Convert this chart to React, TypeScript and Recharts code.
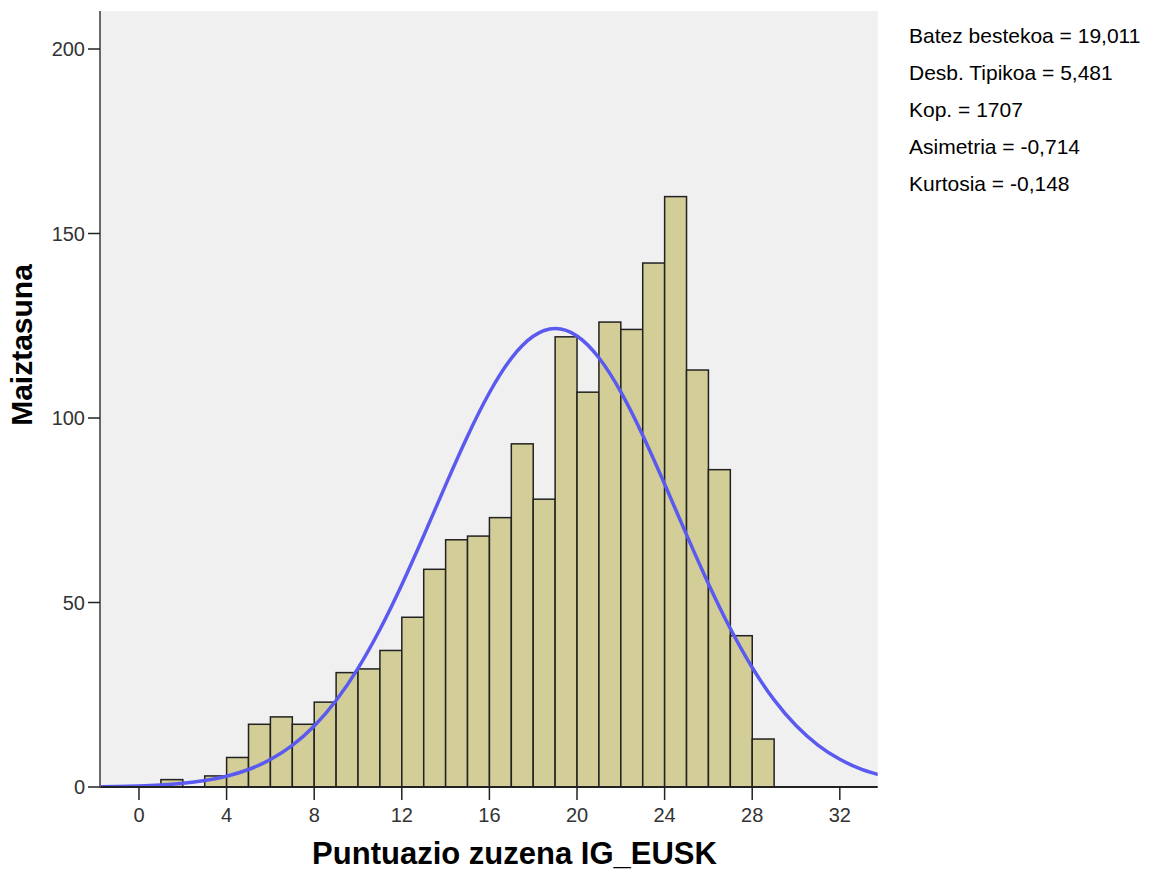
import React from 'react';
import { ComposedChart, Bar, Line, XAxis, YAxis, CartesianGrid } from 'recharts';

// Histogram bins: [start, start+1)
const binStarts = [1, 2, 3, 4, 5, 6, 7, 8, 9, 10, 11, 12, 13, 14, 15, 16, 17, 18, 19, 20, 21, 22, 23, 24, 25, 26, 27, 28];
const binCounts = [2, 0, 3, 8, 17, 19, 17, 23, 31, 32, 37, 46, 59, 67, 68, 73, 93, 78, 122, 107, 126, 124, 142, 160, 113, 86, 41, 13];

// Normal curve
const curveX = [-2, -1, 0, 1, 2, 3, 4, 5, 6, 7, 8, 9, 10, 11, 12, 13, 14, 15, 16, 17, 18, 19, 20, 21, 22, 23, 24, 25, 26, 27, 28, 29, 30, 31, 32, 33, 34];
const curveY = [0.08, 0.16, 0.3, 0.56, 1.01, 1.74, 2.92, 4.74, 7.43, 11.26, 16.51, 23.43, 32.17, 42.7, 54.83, 68.09, 81.8, 95.07, 106.84, 116.16, 122.15, 124.25, 122.24, 116.33, 107.08, 95.35, 82.11, 68.4, 55.11, 42.95, 32.38, 23.61, 16.65, 11.36, 7.5, 4.79, 2.95];

const xTicks = [0, 4, 8, 12, 16, 20, 24, 28, 32];
const yTicks = [0, 50, 100, 150, 200];
const xDomain = [-1.78, 33.73];
const yDomain = [0, 210.3];

const statLines = [
  'Batez bestekoa = 19,011',
  'Desb. Tipikoa = 5,481',
  'Kop. = 1707',
  'Asimetria = -0,714',
  'Kurtosia = -0,148',
];

const xTitle = 'Puntuazio zuzena IG_EUSK';
const yTitle = 'Maiztasuna';

const CHART_W = 1136;
const CHART_H = 869;
const MARGIN = { top: 3, right: 266.3, bottom: 0, left: 0 };
const Y_AXIS_W = 92;
const X_AXIS_H = 90;
const plotW = CHART_W - MARGIN.left - MARGIN.right - Y_AXIS_W;
const unitPx = plotW / (xDomain[1] - xDomain[0]);

const barRows = binStarts.map((s, i) => ({ x: s + 0.5, count: binCounts[i] }));
const curveRows = curveX.map((x, i) => ({ x, curve: curveY[i] }));

const FONT = '"Liberation Sans", Arial, sans-serif';

const XTitle = () => (
  <text x={506.5} y={856} textAnchor="middle" fontFamily={FONT} fontWeight="bold" fontSize={31} fill="#000">
    {xTitle}
  </text>
);

const YTitle = () => (
  <text
    x={13}
    y={337}
    transform="rotate(-90 13 337)"
    textAnchor="middle"
    dominantBaseline="central"
    fontFamily={FONT}
    fontWeight="bold"
    fontSize={30}
    fill="#000"
  >
    {yTitle}
  </text>
);

// Bar shape: full bin width, centred on the position Recharts computed
const HistBar = (props: any) => {
  const { x, y, width, height } = props;
  if (height == null || height <= 0) return null;
  const cx = x + width / 2;
  return (
    <rect
      x={cx - unitPx / 2}
      y={y}
      width={unitPx}
      height={height}
      fill="#D3CE97"
      stroke="#222"
      strokeWidth={1.5}
    />
  );
};

export default function App() {
  return (
    <div style={{ position: 'relative', width: CHART_W, height: CHART_H, fontFamily: FONT }}>
      <ComposedChart
        width={CHART_W}
        height={CHART_H}
        data={barRows}
        margin={MARGIN}
        barGap={0}
        barCategoryGap={0}
        style={{ overflow: 'visible' }}
      >
        <CartesianGrid fill="#F0F0F0" horizontal={false} vertical={false} />
        <XAxis
          dataKey="x"
          type="number"
          domain={xDomain}
          allowDataOverflow
          ticks={xTicks}
          interval={0}
          height={X_AXIS_H}
          tickSize={13}
          tickMargin={8}
          axisLine={{ stroke: '#222', strokeWidth: 2 }}
          tickLine={{ stroke: '#222', strokeWidth: 1.5 }}
          tick={{ fill: '#333', fontSize: 20, fontFamily: FONT }}
          label={<XTitle />}
        />
        <XAxis xAxisId="top" orientation="top" type="number" domain={[0, 1]} height={0} tick={false} tickLine={false} axisLine={{ stroke: '#6a6a6a', strokeWidth: 2 }} />
        <YAxis
          type="number"
          domain={yDomain}
          allowDataOverflow
          ticks={yTicks}
          interval={0}
          width={Y_AXIS_W}
          tickSize={12}
          tickMargin={3}
          axisLine={{ stroke: '#6a6a6a', strokeWidth: 2 }}
          tickLine={{ stroke: '#222', strokeWidth: 1.5 }}
          tick={{ fill: '#333', fontSize: 20, fontFamily: FONT }}
          label={<YTitle />}
        />
        <YAxis yAxisId="right" orientation="right" type="number" domain={[0, 1]} width={0} tick={false} tickLine={false} axisLine={{ stroke: '#6a6a6a', strokeWidth: 2 }} />
        <Bar
          dataKey="count"
          shape={<HistBar />}
          fill="#D3CE97"
          stroke="#222"
          strokeWidth={1.5}
          isAnimationActive={false}
        />
        <Line
          data={curveRows}
          dataKey="curve"
          type="natural"
          stroke="#5A5AF0"
          strokeWidth={3.5}
          dot={false}
          activeDot={false}
          isAnimationActive={false}
        />
      </ComposedChart>
      <div style={{ position: 'absolute', left: 901, top: 9, fontSize: 21, lineHeight: '37px', color: '#000', whiteSpace: 'nowrap' }}>
        {statLines.map((s) => (
          <div key={s}>{s}</div>
        ))}
      </div>
    </div>
  );
}
